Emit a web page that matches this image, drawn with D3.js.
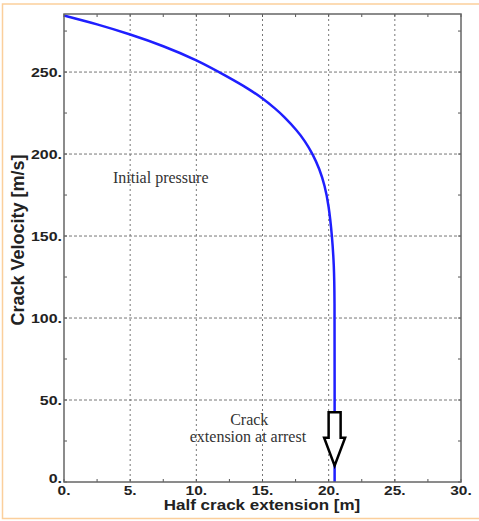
<!DOCTYPE html>
<html>
<head>
<meta charset="utf-8">
<script src="https://cdn.jsdelivr.net/npm/d3@7"></script>
<style>
  body { margin: 0; background: #fff; }
  .tick-label { font-family: "Liberation Sans", Arial, sans-serif; font-weight: bold; fill: #222; }
  .axis-title { font-family: "Liberation Sans", Arial, sans-serif; font-weight: bold; fill: #222; }
  .note { font-family: "Liberation Serif", "Times New Roman", serif; font-size: 16px; fill: #333; }
</style>
</head>
<body>
<div id="chart"></div>
<script>
// half crack extension [m] vs crack velocity [m/s]
const extension = [0, 2.5, 5, 7.5, 10, 12.5, 14, 15, 16, 16.6, 17.6, 18.2, 18.8, 19.3, 19.7, 20.0, 20.26, 20.4, 20.45, 20.45, 20.45];
const velocity  = [284.5, 279.2, 273, 266, 257.5, 246.5, 239.5, 234, 227.5, 223, 214.5, 208, 200, 191, 181, 169, 150, 132, 115, 60, 0];

const xTicks = [0, 5, 10, 15, 20, 25, 30];
const yTicks = [0, 50, 100, 150, 200, 250];
const xMinor = d3.range(0, 30.01, 2.5);
const yMinor = d3.range(0, 285, 25);

const arrowAt = 20.45; // crack extension at arrest

const W = 479, H = 521;
const margin = { top: 14, left: 64, bottom: 39, right: 18 };
const w = W - margin.left - margin.right;
const h = H - margin.top - margin.bottom;

const svg = d3.select("#chart").append("svg")
  .attr("width", W)
  .attr("height", H);

// light orange frame around the figure
svg.append("path")
  .attr("d", "M479,4 H2.5 V518.5 H479")
  .attr("fill", "none")
  .attr("stroke", "#fbcf9c")
  .attr("stroke-width", 1.5);

const g = svg.append("g").attr("transform", "translate(" + margin.left + "," + margin.top + ")");

const x = d3.scaleLinear().domain([0, 30]).range([0, w]);
const y = d3.scaleLinear().domain([0, 285.4]).range([h, 0]);

// dotted grid
g.selectAll(".vgrid").data(xTicks.slice(1, -1)).enter().append("line")
  .attr("x1", d => x(d)).attr("x2", d => x(d))
  .attr("y1", 0).attr("y2", h)
  .attr("stroke", "#777").attr("stroke-width", 1)
  .attr("stroke-dasharray", "2,3");
g.selectAll(".hgrid").data(yTicks.slice(1)).enter().append("line")
  .attr("x1", 0).attr("x2", w)
  .attr("y1", d => y(d)).attr("y2", d => y(d))
  .attr("stroke", "#777").attr("stroke-width", 1)
  .attr("stroke-dasharray", "3,2");

// minor ticks on all four sides, pointing in
const tk = 3;
xMinor.forEach(d => {
  g.append("line").attr("x1", x(d)).attr("x2", x(d)).attr("y1", 0).attr("y2", tk).attr("stroke", "#555");
  g.append("line").attr("x1", x(d)).attr("x2", x(d)).attr("y1", h).attr("y2", h - tk).attr("stroke", "#555");
});
yMinor.forEach(d => {
  g.append("line").attr("y1", y(d)).attr("y2", y(d)).attr("x1", 0).attr("x2", tk).attr("stroke", "#555");
  g.append("line").attr("y1", y(d)).attr("y2", y(d)).attr("x1", w).attr("x2", w - tk).attr("stroke", "#555");
});

// curve
const line = d3.line()
  .x((d, i) => x(extension[i]))
  .y(d => y(d))
  .curve(d3.curveBasis);
g.append("path")
  .datum(velocity)
  .attr("d", line)
  .attr("fill", "none")
  .attr("stroke", "#1f1fff")
  .attr("stroke-width", 2.5);

// frame
g.append("rect")
  .attr("width", w).attr("height", h)
  .attr("fill", "none")
  .attr("stroke", "#666")
  .attr("stroke-width", 1.5);

// tick labels (the original is squashed vertically)
g.selectAll(".xl").data(xTicks).enter().append("text")
  .attr("class", "tick-label")
  .attr("font-size", 15.5)
  .attr("transform", d => "translate(" + x(d) + "," + (h + 12.5) + ") scale(1,0.78)")
  .attr("text-anchor", "middle")
  .text(d => d + ".");
g.selectAll(".yl").data(yTicks).enter().append("text")
  .attr("class", "tick-label")
  .attr("font-size", 16)
  .attr("transform", d => "translate(-2," + (y(d) + (d === 0 ? 1 : 4.5)) + ") scale(1,0.75)")
  .attr("text-anchor", "end")
  .text(d => d + ".");

// axis titles
svg.append("text")
  .attr("class", "axis-title")
  .attr("font-size", 17)
  .attr("transform", "translate(262,510) scale(1,0.85)")
  .attr("text-anchor", "middle")
  .text("Half crack extension [m]");
svg.append("text")
  .attr("class", "axis-title")
  .attr("font-size", 18)
  .attr("transform", "translate(24,240) rotate(-90)")
  .attr("text-anchor", "middle")
  .text("Crack Velocity [m/s]");

// annotations
g.append("text").attr("class", "note")
  .attr("x", x(3.7)).attr("y", y(182.5))
  .text("Initial pressure");
g.append("text").attr("class", "note")
  .attr("font-size", 15.5)
  .attr("x", x(14.0)).attr("y", y(34.5))
  .attr("text-anchor", "middle")
  .text("Crack");
g.append("text").attr("class", "note")
  .attr("font-size", 15.5)
  .attr("x", x(13.9)).attr("y", y(24.5))
  .attr("text-anchor", "middle")
  .text("extension at arrest");

// hollow arrow pointing at the arrest position
const ax = x(arrowAt);
const a0 = y(42.5), a1 = y(27), a2 = y(10);
g.append("path")
  .attr("d", [
    "M", ax - 6, a0, "H", ax + 6, "V", a1, "H", ax + 10.5,
    "L", ax, a2, "L", ax - 10.5, a1, "H", ax - 6, "Z"
  ].join(" "))
  .attr("fill", "#fff")
  .attr("stroke", "#000")
  .attr("stroke-width", 2.5)
  .attr("stroke-linejoin", "miter");
</script>
</body>
</html>
